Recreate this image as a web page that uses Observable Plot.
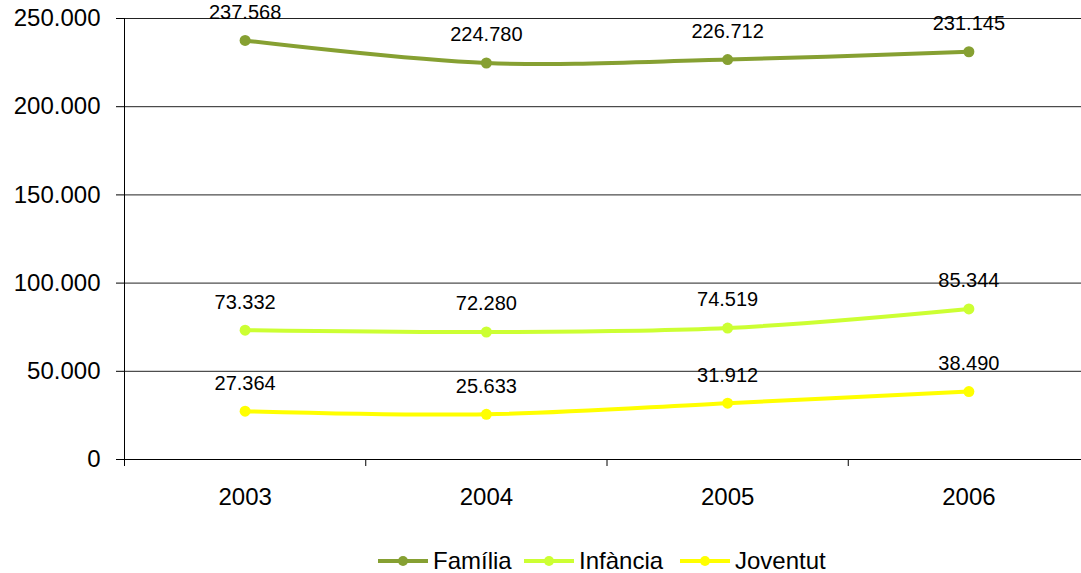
<!DOCTYPE html>
<html>
<head>
<meta charset="utf-8">
<script src="https://cdn.jsdelivr.net/npm/d3@7"></script>
<script src="https://cdn.jsdelivr.net/npm/@observablehq/plot@0.6"></script>
<style>
  html, body { margin: 0; padding: 0; background: #fff; overflow: hidden; }
  body { width: 1081px; height: 573px; position: relative; font-family: 'Liberation Sans', Arial, sans-serif; }
  #legend { position: absolute; top: 539px; left: 0; width: 1081px; height: 43px; }
  .item { position: absolute; top: 0; height: 43px; display: flex; align-items: center; font-size: 24px; color: #000; }
  .item svg { margin-right: 5px; }
</style>
</head>
<body>
<div id="chart"></div>
<div id="legend"></div>
<script>
const years = [2003, 2004, 2005, 2006];
const seriesNames = ["Família", "Infància", "Joventut"];
const familia = [237568, 224780, 226712, 231145];
const infancia = [73332, 72280, 74519, 85344];
const joventut = [27364, 25633, 31912, 38490];
const colors = ["#86A032", "#CCFF33", "#FFFF00"];
const yTicks = [0, 50000, 100000, 150000, 200000, 250000];
const xBounds = [2002.5, 2003.5, 2004.5, 2005.5, 2006.5];

const seriesValues = [familia, infancia, joventut];
const data = seriesNames.flatMap((s, i) => years.map((y, j) => ({series: s, year: y, value: seriesValues[i][j]})));

const fmt = d => d3.format(",")(d).replace(/,/g, ".");

const chart = Plot.plot({
  width: 1081,
  height: 530,
  marginLeft: 124,
  marginRight: -8,
  marginTop: 18,
  marginBottom: 71,
  x: {type: "linear", domain: [2002.5, 2006.5]},
  y: {domain: [0, 250000]},
  color: {domain: seriesNames, range: colors},
  style: {fontFamily: "'Liberation Sans', Arial, sans-serif", fontSize: "24px", color: "#000", background: "white"},
  marks: [
    Plot.ruleY(yTicks, {stroke: "#222", strokeWidth: 1}),
    Plot.axisY({ticks: yTicks, tickSize: 8, tickPadding: 16, tickFormat: fmt, label: null, stroke: "#000", strokeOpacity: 1}),
    Plot.ruleX([2002.5], {stroke: "#000"}),
    Plot.axisX({ticks: xBounds, tickSize: 7, tickFormat: () => "", label: null, stroke: "#000", strokeOpacity: 1}),
    Plot.axisX({ticks: years, tickSize: 0, tickPadding: 28, tickFormat: d => String(d), label: null}),
    Plot.ruleY([0], {stroke: "#000"}),
    Plot.line(data, {x: "year", y: "value", z: "series", stroke: "series", strokeWidth: 4, curve: "catmull-rom"}),
    Plot.dot(data, {x: "year", y: "value", fill: "series", r: 5.5}),
    Plot.text(data, {x: "year", y: "value", text: d => fmt(d.value), dy: -28, fontSize: 20, fill: "#000"})
  ]
});
document.getElementById("chart").appendChild(chart);

const legend = document.getElementById("legend");
const lefts = [378, 524, 680];
seriesNames.forEach((s, i) => {
  const div = document.createElement("div");
  div.className = "item";
  div.style.left = lefts[i] + "px";
  div.innerHTML = `<svg width="50" height="14"><line x1="0" y1="7" x2="50" y2="7" stroke="${colors[i]}" stroke-width="4"/><circle cx="25" cy="7" r="5" fill="${colors[i]}"/></svg><span>${s}</span>`;
  legend.appendChild(div);
});
</script>
</body>
</html>
